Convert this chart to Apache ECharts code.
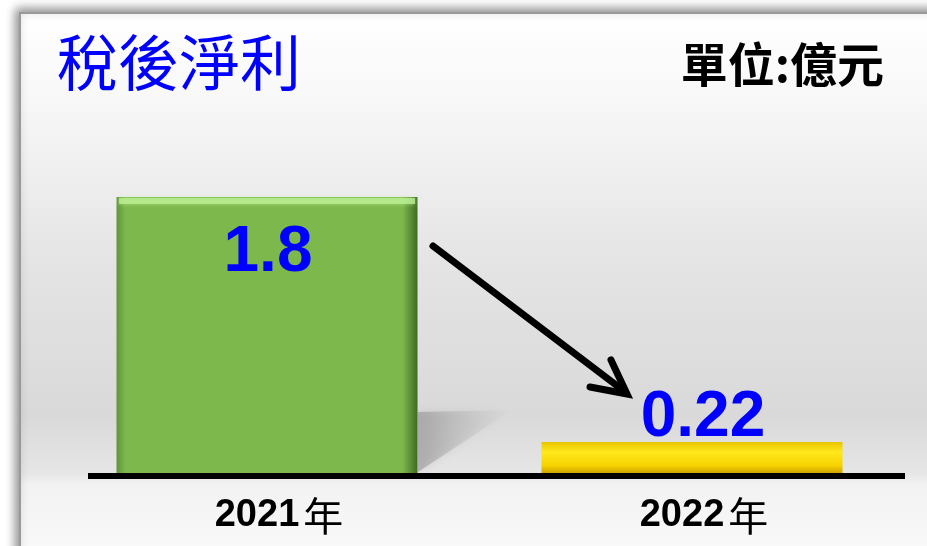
<!DOCTYPE html>
<html>
<head>
<meta charset="utf-8">
<script src="https://cdn.jsdelivr.net/npm/echarts@6/dist/echarts.min.js"></script>
<style>
  html, body { margin: 0; padding: 0; background: #fff; }
  #chart { width: 927px; height: 546px; }
</style>
</head>
<body>
<div id="chart"></div>
<script>
const categories = ["2021年", "2022年"];
const values = [1.8, 0.22];
const labels = ["1.8", "0.22"];

const barColors = [
  // 綠色柱子
  new echarts.graphic.LinearGradient(0, 0, 1, 0, [
    { offset: 0, color: "#5f9638" },
    { offset: 0.03, color: "#7cb84c" },
    { offset: 0.95, color: "#7cb84c" },
    { offset: 1, color: "#3f6a22" },
  ]),
  // 黃色柱子
  new echarts.graphic.LinearGradient(0, 0, 0, 1, [
    { offset: 0, color: "#e8c400" },
    { offset: 0.3, color: "#ffe81c" },
    { offset: 0.7, color: "#f5d200" },
    { offset: 1, color: "#c09000" },
  ]),
];

const chart = echarts.init(document.getElementById("chart"));

chart.setOption({
  animation: false,
  backgroundColor: "#ffffff",
  title: [
    {
      text: "稅後淨利",
      left: 52,
      top: 27,
      textStyle: {
        color: "#0000ff",
        fontSize: 61,
        fontWeight: "normal",
        fontFamily: "Noto Sans CJK TC",
      },
    },
    {
      text: "單位:億元",
      right: 38,
      top: 36,
      textStyle: {
        color: "#000",
        fontSize: 47,
        fontWeight: "bold",
        fontFamily: "Noto Sans CJK TC",
      },
    },
  ],
  grid: { left: 54.5, right: 22.5, top: 88.5, bottom: 70 },
  xAxis: {
    type: "category",
    data: categories,
    axisLine: { show: false },
    axisTick: { show: false },
    axisLabel: {
      margin: 20,
      padding: [0, 0, 0, 24],
      formatter: (v) => `{d|${v.slice(0, 4)}}{n|${v.slice(4)}}`,
      rich: {
        d: { fontSize: 38, fontWeight: "bold", color: "#000", fontFamily: "Liberation Sans" },
        n: { fontSize: 40, color: "#000", fontFamily: "Noto Sans CJK TC", padding: [0, 0, 0, 4] },
      },
    },
  },
  yAxis: {
    type: "value",
    min: 0,
    max: 2.5,
    show: false,
    splitLine: { show: false },
  },
  graphic: [
    {
      type: "rect",
      z: -10,
      shape: { x: 20, y: 13, width: 940, height: 560 },
      style: {
        fill: new echarts.graphic.LinearGradient(0, 0, 0, 1, [
          { offset: 0, color: "#ffffff" },
          { offset: 0.15, color: "#f8f8f8" },
          { offset: 0.45, color: "#e4e4e4" },
          { offset: 0.72, color: "#d9d9d9" },
          { offset: 0.82, color: "#e6e6e6" },
          { offset: 0.84, color: "#f2f2f2" },
          { offset: 1, color: "#fcfcfc" },
        ]),
        stroke: "#9a9a9a",
        lineWidth: 2,
        shadowBlur: 10,
        shadowOffsetX: -3,
        shadowOffsetY: -3,
        shadowColor: "rgba(0,0,0,0.45)",
      },
    },
    // 綠柱陰影
    {
      type: "polygon",
      z: -5,
      shape: { points: [[418, 412], [512, 410], [418, 472]] },
      style: {
        fill: new echarts.graphic.LinearGradient(0, 0, 1, 0, [
          { offset: 0, color: "rgba(140,140,140,0.55)" },
          { offset: 1, color: "rgba(180,180,180,0)" },
        ]),
        shadowBlur: 10,
        shadowColor: "rgba(150,150,150,0.5)",
      },
    },
    // 綠柱頂部高光
    {
      type: "rect",
      z: 5,
      shape: { x: 119, y: 198, width: 296, height: 6 },
      style: { fill: "rgba(190,240,150,0.75)", shadowBlur: 4, shadowColor: "rgba(190,240,150,0.8)" },
    },
    // 橫軸粗線
    {
      type: "rect",
      z: 10,
      shape: { x: 88, y: 473, width: 817, height: 6 },
      style: { fill: "#000" },
    },
    // 下降箭頭
    {
      type: "line",
      z: 10,
      shape: { x1: 433, y1: 246, x2: 624, y2: 391 },
      style: { stroke: "#000", lineWidth: 7, lineCap: "round" },
    },
    {
      type: "polyline",
      z: 10,
      shape: { points: [[611, 360], [627, 394], [590, 387]] },
      style: { stroke: "#000", lineWidth: 7, lineCap: "round", lineJoin: "miter", fill: "none" },
    },
  ],
  series: [
    {
      type: "bar",
      barWidth: 301,
      data: values.map((v, i) => ({
        value: v,
        itemStyle: { color: barColors[i] },
        label: {
          show: true,
          position: i === 0 ? "insideTop" : "top",
          distance: i === 0 ? 24 : 0,
          offset: i === 0 ? [1, 0] : [11, 8],
          formatter: labels[i],
          color: "#0000ff",
          fontSize: 64,
          fontWeight: "bold",
          fontFamily: "Liberation Sans",
        },
      })),
    },
  ],
});
</script>
</body>
</html>
